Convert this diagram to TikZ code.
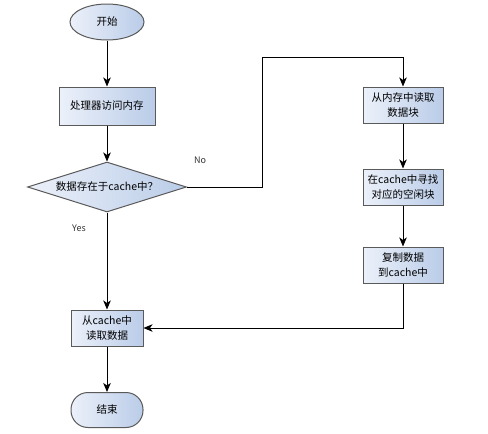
\documentclass[tikz,border=0pt]{standalone}
\usepackage{fontspec}
\setmainfont{Noto Sans CJK SC}
\usetikzlibrary{shapes.geometric, arrows.meta}
\definecolor{fillblue}{RGB}{186,204,232}
\definecolor{fillpale}{RGB}{236,241,250}
\definecolor{edgegray}{RGB}{90,90,90}

\begin{document}
\begin{tikzpicture}[x=1pt,y=-1pt,->,>={Stealth[length=9pt,width=7.5pt,inset=2.5pt]},line width=0.9pt,
    every node/.style={font=\fontsize{10.5}{15}\selectfont},
    shaded/.style={draw=edgegray,line width=1pt,left color=fillpale,right color=fillblue},
    block/.style={shaded,rectangle,align=center,inner sep=1pt,minimum height=36pt},
    terminal/.style={shaded,ellipse,minimum width=74pt,minimum height=36pt,inner sep=0pt},
    decision/.style={shaded,diamond,aspect=3.2,minimum width=159pt,minimum height=50pt,inner sep=0pt},
    label/.style={font=\fontsize{9}{11}\selectfont,text=black!80}]
    \useasboundingbox (0,0) rectangle (488,434);
    \node[terminal] (start) at (107,22) {开始};
    \node[block, minimum width=96pt, minimum height=38pt] (access) at (107,106) {处理器访问内存};
    \node[decision] (hit) at (107,187) {数据存在于cache中？};
    \node[block, minimum width=80pt] (fetch) at (403,105) {从内存中读取\\数据块};
    \node[block, minimum width=80pt] (find) at (403,187) {在cache中寻找\\对应的空闲块};
    \node[block, minimum width=80pt] (copy) at (403,265) {复制数据\\到cache中};
    \node[block, minimum width=72pt] (read) at (107,328) {从cache中\\读取数据};
    \node[terminal, rectangle, rounded corners=17pt, minimum width=72pt, minimum height=35pt] (stop) at (107,410) {结束};
    \coordinate (bend) at (262,57);
    \node[label] (no) at (200,160) {No};
    \node[label] (yes) at (79,228) {Yes};
    \path
    (start) edge (access)
    (access) edge (hit)
    (hit) edge (read)
    (fetch) edge (find)
    (find) edge (copy)
    (read) edge (stop);
    \draw (hit.east) -| (bend) -| (fetch.north);
    \draw (copy.south) |- (read.east);
\end{tikzpicture}
\end{document}
